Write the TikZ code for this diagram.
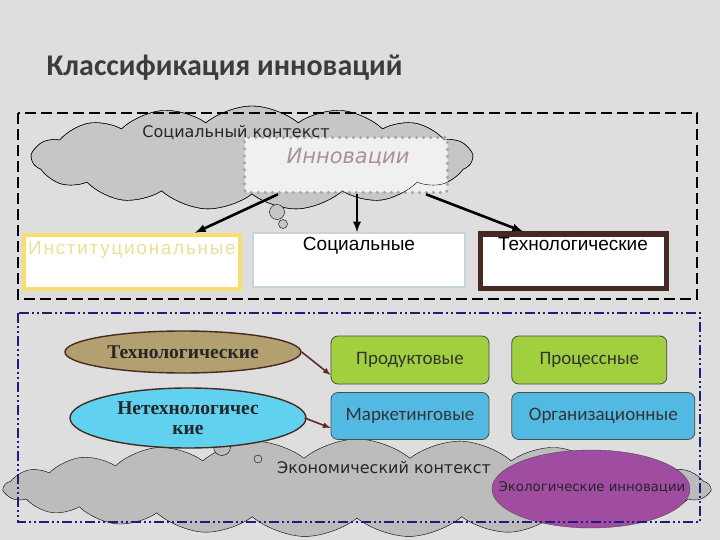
\documentclass[tikz,border=0pt]{standalone}
\usepackage{fontspec}
\setmainfont{Liberation Sans}
\newfontfamily\calfont{Carlito}
\newfontfamily\serfont{Liberation Serif}
\newfontfamily\cloudfont{DejaVu Sans}
\usepackage{tikz}
\usetikzlibrary{arrows,shapes.symbols,shapes.geometric}
\usetikzlibrary{positioning}
\definecolor{bggray}{RGB}{222,222,222}
\definecolor{cloudgray}{RGB}{198,198,198}
\definecolor{titlegray}{RGB}{60,60,60}
\definecolor{instyellow}{RGB}{248,222,112}
\definecolor{insttext}{RGB}{236,224,150}
\definecolor{socblue}{RGB}{200,214,220}
\definecolor{techbrown}{RGB}{72,40,34}
\definecolor{olive}{RGB}{178,160,112}
\definecolor{skycyan}{RGB}{96,210,240}
\definecolor{leafgreen}{RGB}{160,208,62}
\definecolor{seablue}{RGB}{82,186,226}
\definecolor{ecopurple}{RGB}{160,76,160}
\definecolor{navy}{RGB}{30,30,120}
\definecolor{maroon}{RGB}{100,40,40}
\definecolor{innovtext}{RGB}{168,146,156}
\tikzstyle{cloudy} = [cloud, cloud puffs=15, cloud puff arc=80, aspect=4.2, draw=black, thin, fill=cloudgray, inner sep=0pt]
\tikzstyle{bubble} = [circle, draw=black, thin, fill=cloudgray, inner sep=0pt]
\tikzstyle{topbox} = [rectangle, fill=white, minimum width=212pt, minimum height=54pt, inner sep=0pt]
\tikzstyle{toptext} = [font=\fontsize{19}{22}\selectfont, inner sep=0pt]
\tikzstyle{kind} = [ellipse, line width=1.4pt, draw=techbrown, minimum width=236pt, inner sep=0pt, align=center, text=black!85, font=\serfont\bfseries\fontsize{19.5}{20}\selectfont]
\tikzstyle{sort} = [rectangle, rounded corners=7pt, line width=0.8pt, minimum height=48pt, inner sep=0pt, text=black!80, font=\calfont\fontsize{19}{22}\selectfont]
\tikzstyle{bigarrow} = [-latex, line width=2.6pt, black]
\tikzstyle{smallarrow} = [-latex, line width=1.6pt, maroon]

\begin{document}
\begin{tikzpicture}[x=1pt,y=-1pt]
\fill[bggray] (0,0) rectangle (720,540);
\useasboundingbox (0,0) rectangle (720,540);

\node[anchor=west, text=titlegray, font=\calfont\bfseries\fontsize{30}{34}\selectfont] (title) at (43,68) {Классификация инноваций};

% social context
\node[cloudy, minimum width=440pt, minimum height=104pt] (soccloud) at (252,158) {};
\node[rectangle, rounded corners=3pt, fill=gray!12, draw=gray!70, line width=3.5pt, dash pattern=on 0pt off 7pt, line cap=round, minimum width=203pt, minimum height=55pt] (innov) at (346,165) {};
\node[cloudy, fill=none, minimum width=440pt, minimum height=104pt] at (soccloud) {};
\node[font=\cloudfont\fontsize{16}{19}\selectfont, text=black!85] (soclabel) at (236,133) {Социальный контекст};
\node[font=\cloudfont\itshape\fontsize{21}{24}\selectfont, text=innovtext] (innovlabel) at (348,157) {Инновации};
\node[bubble, minimum size=15pt] (sb1) at (277,212) {};
\node[bubble, minimum size=9pt] (sb2) at (283,224) {};

% three kinds
\node[topbox, draw=instyellow, line width=4.5pt, minimum width=216pt] (inst) at (132,262) {};
\node[topbox, draw=socblue, line width=1.5pt] (soc) at (359,260) {};
\node[topbox, draw=techbrown, line width=5pt, minimum width=186pt] (tech) at (573,261) {};
\node[toptext, text=insttext, below=8pt of inst.north] (inst-t) {\addfontfeature{LetterSpace=9}Институциональные};
\node[toptext, below=5pt of soc.north] (soc-t) {Социальные};
\node[toptext, below=6pt of tech.north] (tech-t) {Технологические};
\draw[bigarrow] ([xshift=-68pt]innov.south) -- ([xshift=63pt]inst.north);
\draw[bigarrow] ([xshift=11pt]innov.south) -- ([xshift=-2pt]soc.north);
\draw[bigarrow] ([xshift=80pt]innov.south) -- ([xshift=-50pt]tech.north);
\draw[black, line width=1.8pt, dash pattern=on 11pt off 5pt] (18,113) rectangle (697,299);

% economic context
\node[cloudy, fill=cloudgray!95!black, cloud puffs=21, aspect=7, minimum width=706pt, minimum height=98pt] (ecocloud) at (357,488) {};
\node[bubble, fill=cloudgray!95!black, minimum width=13pt, minimum height=17pt] (eb1) at (222,447) {};
\node[bubble, fill=cloudgray!95!black, minimum size=8pt] (eb2) at (258,459) {};
\node[font=\cloudfont\fontsize{16}{19}\selectfont, text=black!85] (ecolabel) at (384,468) {Экономический контекст};
\node[ellipse, fill=ecopurple, draw=black!70, thin, minimum width=198pt, minimum height=78pt] (eco) at (591,489) {};
\node[font=\cloudfont\fontsize{13.3}{16}\selectfont, text=black!85] (eco-t) at (592,487) {Экологические инновации};

% technological / non-technological
\node[kind, fill=olive, minimum height=42pt] (techell) at (183,352) {Технологические};
\node[kind, fill=skycyan, minimum height=60pt] (nontech) at (188,418) {Нетехнологичес\\кие};
\node[sort, fill=leafgreen, draw=black!70, minimum width=158pt] (prod) at (410,360) {Продуктовые};
\node[sort, fill=leafgreen, draw=black!70, minimum width=155pt, right=22pt of prod] (proc) {Процессные};
\node[sort, fill=seablue, draw=black!70, minimum width=158pt, minimum height=47pt] (mark) at (410,416) {Маркетинговые};
\node[sort, fill=seablue, draw=black!70, minimum width=183pt, minimum height=47pt, right=22pt of mark] (org) {Организационные};
\draw[smallarrow] (techell.east) -- ([yshift=-15pt]prod.west);
\draw[smallarrow] ([xshift=-2pt]nontech.east) -- ([yshift=-12pt]mark.west);
\draw[navy, line width=1.5pt, dash pattern=on 10pt off 3pt on 2pt off 3pt on 2pt off 3pt] (18,313) rectangle (700,522);
\end{tikzpicture}
\end{document}
